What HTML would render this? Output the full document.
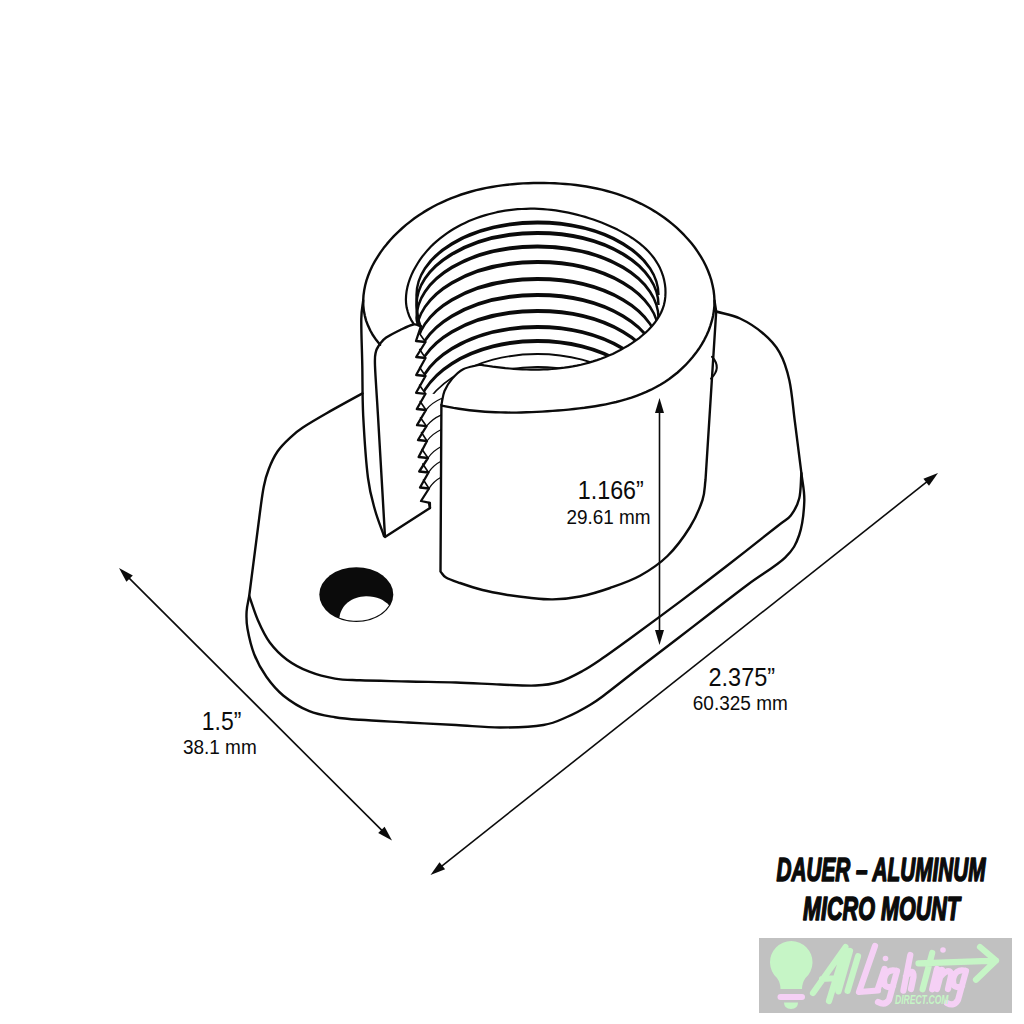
<!DOCTYPE html>
<html><head><meta charset="utf-8"><style>
html,body{margin:0;padding:0;background:#fff;}
svg{display:block;font-family:"Liberation Sans", sans-serif;}
</style></head><body>
<svg width="1024" height="1024" viewBox="0 0 1024 1024" fill="#0b0b0b">
<defs><clipPath id="cc"><path d="M413.5,323.6 L411.1,319.8 L409.2,315.9 L407.8,311.8 L406.7,307.8 L406.1,303.7 L405.9,299.5 L406.1,295.4 L406.6,291.2 L407.4,287.1 L408.5,283.0 L409.9,278.9 L411.5,274.9 L413.3,271.0 L415.4,267.2 L417.6,263.5 L419.9,259.9 L422.4,256.4 L425.1,253.1 L427.8,249.9 L430.7,246.8 L433.7,243.9 L436.8,241.1 L440.1,238.4 L443.4,235.8 L446.8,233.3 L450.3,231.0 L453.9,228.8 L457.5,226.7 L461.2,224.7 L465.0,222.9 L468.9,221.1 L472.8,219.5 L476.7,218.0 L480.7,216.6 L484.7,215.4 L488.7,214.2 L492.8,213.2 L496.8,212.2 L501.0,211.4 L505.1,210.7 L509.2,210.1 L513.4,209.6 L517.6,209.2 L521.8,209.0 L526.0,208.8 L530.2,208.7 L534.5,208.7 L538.7,208.9 L543.0,209.1 L547.2,209.5 L551.4,209.9 L555.7,210.4 L559.9,211.1 L564.1,211.8 L568.3,212.6 L572.6,213.6 L576.7,214.6 L580.9,215.7 L585.1,216.9 L589.2,218.2 L593.3,219.5 L597.4,221.0 L601.5,222.6 L605.6,224.2 L609.6,225.9 L613.6,227.7 L617.5,229.6 L621.3,231.6 L625.1,233.7 L628.8,235.9 L632.4,238.2 L635.9,240.6 L639.3,243.2 L642.5,245.8 L645.6,248.6 L648.5,251.5 L651.2,254.6 L653.7,257.7 L656.0,261.1 L658.1,264.5 L660.0,268.1 L661.6,271.9 L663.0,275.8 L664.1,279.9 L664.9,284.1 L665.4,288.4 L665.5,292.6 L665.3,296.9 L664.8,301.1 L663.9,305.1 L662.6,309.0 L661.0,312.8 L659.0,316.4 L656.8,319.9 L654.3,323.3 L651.6,326.6 L648.6,329.7 L645.5,332.7 L642.2,335.5 L638.8,338.3 L635.2,340.9 L631.6,343.4 L627.9,345.7 L624.1,347.9 L620.4,350.0 L616.5,352.0 L612.7,353.9 L608.8,355.6 L604.9,357.2 L601.0,358.7 L597.0,360.1 L593.0,361.4 L589.0,362.6 L584.9,363.7 L580.9,364.7 L576.8,365.6 L572.7,366.4 L568.5,367.1 L564.4,367.7 L560.2,368.2 L556.1,368.6 L551.9,369.0 L547.7,369.3 L543.5,369.4 L539.2,369.6 L535.0,369.6 L530.8,369.6 L526.5,369.5 L522.3,369.3 L518.0,369.1 L513.8,368.8 L509.6,368.5 L505.3,368.1 L501.1,367.6 L496.8,367.1 L492.6,366.6 L488.4,366.0 L484.2,365.4 L480.0,364.7C474.4,366.2 467.9,366.9 463.2,369.2 C458.6,371.5 455.4,375.0 452.3,378.6 C449.2,382.2 446.3,386.6 444.5,391.0 C442.7,395.4 442.4,400.3 441.4,405.0 L441.4,394 L425.5,393.8 L419.6,385.2 L425.5,376.0 L419.7,367.5 L425.5,358.0 L419.7,349.5 L425.5,342.0 L419.5,333.5 L420.9,326.4 Z"/></clipPath></defs>
<path d="M249.2,596.0 C248.3,601.2 246.9,606.0 246.6,611.5 C246.3,617.0 246.2,621.5 247.5,628.7 C248.8,635.9 251.2,646.5 254.3,654.5 C257.4,662.5 261.5,669.9 266.4,676.8 C271.3,683.7 276.4,690.0 283.5,695.7 C290.6,701.4 300.7,707.6 309.3,711.2 C317.9,714.8 326.6,715.8 335.0,717.2 C343.4,718.6 347.8,718.9 360.0,719.8 C372.2,720.7 392.0,721.6 408.0,722.5 C424.0,723.4 440.7,724.2 456.0,725.0 C471.3,725.8 485.4,727.5 500.0,727.5 C514.6,727.5 532.2,726.8 543.4,725.0 C554.5,723.2 559.1,720.4 566.9,717.0 C574.7,713.6 583.8,708.6 590.3,704.7 C596.8,700.8 597.5,700.1 606.0,693.8 C614.5,687.4 629.2,675.6 641.0,666.5 C652.8,657.4 665.2,648.1 677.0,639.0 C688.8,629.9 700.1,621.2 712.0,612.0 C723.9,602.8 736.4,593.1 748.6,584.0 C760.8,574.9 776.7,565.8 785.1,557.6 C793.5,549.4 796.0,544.4 799.2,535.0 C802.4,525.6 803.9,511.6 804.3,501.3 C804.7,491.0 802.4,482.6 801.4,473.2 " fill="none" stroke="#0b0b0b" stroke-width="2.4" stroke-linejoin="round" stroke-linecap="round" />
<path d="M362.5,393.4 C350.8,399.8 337.5,407.0 327.5,412.8 C317.5,418.5 308.8,423.6 302.5,427.8 C296.2,431.9 294.2,433.8 290.0,437.8 C285.8,441.7 281.0,446.3 277.5,451.5 C274.0,456.7 271.0,463.2 268.8,469.0 C266.5,474.8 265.2,479.3 263.8,486.5 C262.3,493.7 261.2,503.5 260.0,512.0 L249.2,596 C252.1,604.0 254.4,612.2 257.8,620.0 C261.2,627.8 264.9,635.9 269.8,642.5 C274.7,649.1 280.4,654.8 287.0,659.7 C293.6,664.6 301.3,668.6 309.3,671.7 C317.3,674.9 326.6,677.2 335.0,678.6 C343.4,680.0 347.8,679.8 360.0,680.3 C372.2,680.8 392.0,681.1 408.0,681.5 C424.0,681.9 440.7,682.0 456.0,682.5 C471.3,683.0 486.7,684.0 500.0,684.5 C513.3,685.0 525.8,685.9 535.6,685.5 C545.4,685.1 551.2,684.4 559.0,682.0 C566.8,679.6 575.7,674.7 582.5,671.0 C589.3,667.3 592.2,665.3 600.0,660.0 C607.8,654.7 616.1,648.7 629.4,639.0 C642.7,629.3 663.6,613.9 680.0,601.6 C696.4,589.3 711.9,577.5 728.0,565.0 C744.1,552.5 766.2,535.0 776.7,526.7 C787.2,518.4 787.0,520.1 790.8,515.4 C794.5,510.7 797.4,505.5 799.2,498.5 C801.0,491.5 800.7,481.6 801.4,473.2 L795,422.6 C793.1,408.5 792.0,392.1 789.4,380.4 C786.8,368.7 784.0,360.2 779.5,352.3 C775.0,344.4 769.2,338.6 762.6,333.0 C756.0,327.4 747.7,322.1 740.0,318.5 C732.3,314.9 724.1,313.8 716.2,311.5 " fill="none" stroke="#0b0b0b" stroke-width="2.4" stroke-linejoin="round" stroke-linecap="round" />
<ellipse cx="356.3" cy="594.6" rx="37" ry="27.4" fill="#0b0b0b"/>
<path d="M339.4,617.7 C341,605 352,596.5 366,596.3 C377,596.2 384,600 389,605.3 A35.8,26.2 0 0 1 339.4,617.7 Z" fill="#fff"/>
<path d="M380.1,344.7 L376.3,340.1 L373.0,335.3 L370.3,330.5 L368.0,325.6 L366.1,320.6 L364.8,315.6 L363.8,310.5 L363.3,305.5 L363.2,300.4 L363.5,295.4 L364.2,290.3 L365.2,285.3 L366.5,280.4 L368.2,275.5 L370.1,270.7 L372.3,266.0 L374.8,261.4 L377.6,256.8 L380.5,252.4 L383.6,248.1 L387.0,243.9 L390.5,239.8 L394.1,235.9 L398.0,232.1 L401.9,228.5 L406.0,224.9 L410.2,221.6 L414.5,218.3 L418.9,215.3 L423.3,212.4 L427.9,209.6 L432.5,207.0 L437.2,204.5 L441.9,202.3 L446.7,200.1 L451.5,198.1 L456.4,196.3 L461.3,194.5 L466.3,193.0 L471.3,191.5 L476.3,190.2 L481.4,189.0 L486.5,187.9 L491.7,187.0 L496.8,186.1 L502.0,185.4 L507.2,184.7 L512.5,184.2 L517.7,183.8 L523.0,183.4 L528.3,183.2 L533.6,183.0 L538.9,183.0 L544.2,183.0 L549.5,183.1 L554.8,183.3 L560.1,183.6 L565.3,184.0 L570.6,184.4 L575.9,185.0 L581.1,185.7 L586.3,186.5 L591.5,187.5 L596.6,188.5 L601.8,189.7 L606.9,191.0 L611.9,192.4 L616.9,193.9 L621.9,195.6 L626.8,197.5 L631.7,199.4 L636.5,201.6 L641.2,203.8 L645.9,206.3 L650.5,208.8 L655.1,211.6 L659.6,214.5 L664.0,217.5 L668.3,220.8 L672.5,224.1 L676.6,227.7 L680.5,231.4 L684.3,235.2 L688.0,239.2 L691.5,243.3 L694.8,247.5 L697.8,251.9 L700.7,256.4 L703.4,261.0 L705.8,265.7 L707.9,270.5 L709.8,275.5 L711.4,280.4 L712.6,285.5 L713.6,290.5 L714.2,295.6 L714.5,300.7 L714.4,305.8 L713.9,310.8 L713.1,315.8 L711.9,320.7 L710.4,325.6 L708.7,330.5 L706.6,335.2 L704.3,339.8 L701.7,344.4 L698.9,348.8 L695.8,353.1 L692.5,357.3 L689.0,361.3 L685.4,365.2 L681.5,368.9 L677.6,372.5 L673.4,375.8 L669.2,379.0 L664.8,381.9 L660.3,384.7 L655.7,387.3 L651.1,389.7 L646.3,391.9 L641.5,393.9 L636.5,395.8 L631.5,397.6 L626.5,399.2 L621.4,400.6 L616.2,402.0 L611.0,403.2 L605.8,404.3 L600.5,405.3 L595.2,406.2 L589.9,407.0 L584.5,407.8 L579.2,408.4 L573.9,409.0 L568.5,409.6 L563.2,410.1 L557.9,410.5 L552.6,410.9 L547.4,411.3 L542.1,411.6 L536.9,411.9 L531.7,412.1 L526.5,412.3 L521.3,412.5 L516.2,412.6 L511.0,412.6 L505.8,412.5 L500.7,412.4 L495.5,412.2 L490.3,412.0 L485.1,411.7 L479.9,411.3 L474.7,410.8 L469.4,410.2 L464.2,409.5 L458.9,408.7 L453.6,407.9 L448.2,406.9 L442.9,405.9" fill="none" stroke="#0b0b0b" stroke-width="2.4" stroke-linejoin="round" stroke-linecap="round" />
<path d="M714.5,300.7 L716.2,311.5 L705.5,480 C704.5,486.7 705.1,492.2 702.5,500.0 C699.9,507.8 695.8,517.7 690.0,527.0 C684.2,536.3 675.8,547.9 667.5,556.0 C659.2,564.1 649.6,570.4 640.0,575.8 C630.4,581.1 620.0,584.5 610.0,588.0 C600.0,591.5 589.5,594.6 580.0,596.5 C570.5,598.4 561.2,599.2 552.8,599.4 C544.4,599.6 537.4,598.6 529.4,597.8 C521.4,597.0 512.8,595.8 505.0,594.5 C497.2,593.2 490.0,591.9 482.5,590.0 C475.0,588.1 466.1,585.1 460.0,583.0 C453.9,580.9 449.2,579.4 446.0,577.5 C442.8,575.6 442.3,573.5 440.5,571.5 L441.4,405" fill="none" stroke="#0b0b0b" stroke-width="2.4" stroke-linejoin="round" stroke-linecap="round" />
<path d="M363.2,300.4 C362.6,306.6 361.5,308.1 361.3,319.0 C361.1,329.9 362.0,349.6 362.3,365.8 C362.6,381.9 362.3,397.3 363.2,416.0 C364.2,434.7 366.0,462.3 368.0,478.0 C370.0,493.7 372.3,500.3 375.0,510.0 C377.7,519.7 381.0,527.3 384.0,536.0 " fill="none" stroke="#0b0b0b" stroke-width="2.4" stroke-linejoin="round" stroke-linecap="round" />
<path d="M379.6,344.2 C378.4,346.7 376.7,348.1 375.9,351.7 C375.1,355.3 374.6,355.0 375.0,365.8 C375.4,376.5 376.3,387.5 378.0,416.0 C379.7,444.5 382.7,496.7 385.0,537.0 L430,508 L429,503" fill="none" stroke="#0b0b0b" stroke-width="2.4" stroke-linejoin="round" stroke-linecap="round" />
<path d="M379.6,344.2 C381.8,342.0 382.8,340.0 386.2,337.6 C389.6,335.2 395.7,332.2 400.2,330.0 C404.8,327.8 410.0,325.1 413.4,324.5 C416.8,323.9 418.4,325.8 420.9,326.4 " fill="none" stroke="#0b0b0b" stroke-width="2.4" stroke-linejoin="round" stroke-linecap="round" />
<path d="M413.5,323.6 L411.1,319.8 L409.2,315.9 L407.8,311.8 L406.7,307.8 L406.1,303.7 L405.9,299.5 L406.1,295.4 L406.6,291.2 L407.4,287.1 L408.5,283.0 L409.9,278.9 L411.5,274.9 L413.3,271.0 L415.4,267.2 L417.6,263.5 L419.9,259.9 L422.4,256.4 L425.1,253.1 L427.8,249.9 L430.7,246.8 L433.7,243.9 L436.8,241.1 L440.1,238.4 L443.4,235.8 L446.8,233.3 L450.3,231.0 L453.9,228.8 L457.5,226.7 L461.2,224.7 L465.0,222.9 L468.9,221.1 L472.8,219.5 L476.7,218.0 L480.7,216.6 L484.7,215.4 L488.7,214.2 L492.8,213.2 L496.8,212.2 L501.0,211.4 L505.1,210.7 L509.2,210.1 L513.4,209.6 L517.6,209.2 L521.8,209.0 L526.0,208.8 L530.2,208.7 L534.5,208.7 L538.7,208.9 L543.0,209.1 L547.2,209.5 L551.4,209.9 L555.7,210.4 L559.9,211.1 L564.1,211.8 L568.3,212.6 L572.6,213.6 L576.7,214.6 L580.9,215.7 L585.1,216.9 L589.2,218.2 L593.3,219.5 L597.4,221.0 L601.5,222.6 L605.6,224.2 L609.6,225.9 L613.6,227.7 L617.5,229.6 L621.3,231.6 L625.1,233.7 L628.8,235.9 L632.4,238.2 L635.9,240.6 L639.3,243.2 L642.5,245.8 L645.6,248.6 L648.5,251.5 L651.2,254.6 L653.7,257.7 L656.0,261.1 L658.1,264.5 L660.0,268.1 L661.6,271.9 L663.0,275.8 L664.1,279.9 L664.9,284.1 L665.4,288.4 L665.5,292.6 L665.3,296.9 L664.8,301.1 L663.9,305.1 L662.6,309.0 L661.0,312.8 L659.0,316.4 L656.8,319.9 L654.3,323.3 L651.6,326.6 L648.6,329.7 L645.5,332.7 L642.2,335.5 L638.8,338.3 L635.2,340.9 L631.6,343.4 L627.9,345.7 L624.1,347.9 L620.4,350.0 L616.5,352.0 L612.7,353.9 L608.8,355.6 L604.9,357.2 L601.0,358.7 L597.0,360.1 L593.0,361.4 L589.0,362.6 L584.9,363.7 L580.9,364.7 L576.8,365.6 L572.7,366.4 L568.5,367.1 L564.4,367.7 L560.2,368.2 L556.1,368.6 L551.9,369.0 L547.7,369.3 L543.5,369.4 L539.2,369.6 L535.0,369.6 L530.8,369.6 L526.5,369.5 L522.3,369.3 L518.0,369.1 L513.8,368.8 L509.6,368.5 L505.3,368.1 L501.1,367.6 L496.8,367.1 L492.6,366.6 L488.4,366.0 L484.2,365.4 L480.0,364.7C474.4,366.2 467.9,366.9 463.2,369.2 C458.6,371.5 455.4,375.0 452.3,378.6 C449.2,382.2 446.3,386.6 444.5,391.0 C442.7,395.4 442.4,400.3 441.4,405.0 " fill="none" stroke="#0b0b0b" stroke-width="2.2" stroke-linejoin="round" stroke-linecap="round" />
<g clip-path="url(#cc)" fill="#0b0b0b" stroke="#0b0b0b" stroke-width="2.4"><path stroke-width="2.4" d="M416.5,295 A121,73.2 0 0 1 658.5,295 A121,71.60000000000001 0 0 0 416.5,295 Z"/><path fill="none" d="M416.5,295 Q416.5,318.2 421,327"/><path stroke-width="2.4" d="M416.5,305 A121,72.8 0 0 1 658.5,305 A121,71.2 0 0 0 416.5,305 Z"/><path fill="none" d="M416.5,305 Q416.5,320.8 421,327"/><path stroke-width="2.4" d="M416.5,318 A121,72.3 0 0 1 658.5,318 A121,70.7 0 0 0 416.5,318 Z"/><path fill="none" d="M416.5,318 Q416.5,324.0 421,327"/><path stroke-width="2.4" d="M416.5,333 A121,71.8 0 0 1 658.5,333 A121,70.2 0 0 0 416.5,333 Z"/><path stroke-width="2.4" d="M416.5,350 A121,71.8 0 0 1 658.5,350 A121,70.2 0 0 0 416.5,350 Z"/><path stroke-width="2.4" d="M416.5,367 A121,72.8 0 0 1 658.5,367 A121,71.2 0 0 0 416.5,367 Z"/><path stroke-width="2.4" d="M416.5,382 A121,71.8 0 0 1 658.5,382 A121,70.2 0 0 0 416.5,382 Z"/><path stroke-width="2.4" d="M416.5,401 A121,74.8 0 0 1 658.5,401 A121,73.2 0 0 0 416.5,401 Z"/><path stroke-width="2.4" d="M416.5,418 A121,77.8 0 0 1 658.5,418 A121,76.2 0 0 0 416.5,418 Z"/><path stroke-width="1.5" d="M416.5,435 A121,81.2 0 0 1 658.5,435 A121,80.8 0 0 0 416.5,435 Z"/><path stroke-width="1.5" d="M416.5,451 A121,84.2 0 0 1 658.5,451 A121,83.8 0 0 0 416.5,451 Z"/><path stroke-width="1.5" d="M416.5,466 A121,86.2 0 0 1 658.5,466 A121,85.8 0 0 0 416.5,466 Z"/></g>
<path d="M420.9,326.4 L416.0,341.0 L425.5,342.0 L416.2,357.0 L425.5,358.0 L416.2,375.0 L425.5,376.0 L416.1,392.8 L425.5,393.8 L416.8,409.0 L426.0,410.0 L417.0,425.2 L426.5,426.2 L418.0,440.0 L427.0,441.0 L418.6,457.0 L428.0,458.0 L419.2,471.5 L428.5,472.5 L420.0,487.5 L429.0,488.5 L421,501 L429.9,502.9 L430,508" fill="none" stroke="#0b0b0b" stroke-width="2.3" stroke-linejoin="round" stroke-linecap="round" />
<path d="M425.5,342.0 L419.5,333.5 M425.5,358.0 L419.7,349.5 M425.5,376.0 L419.7,367.5 M425.5,393.8 L419.6,385.2 M426.0,410.0 L420.2,401.5 M426.5,426.2 L420.5,417.8 M427.0,441.0 L421.5,432.5 M428.0,458.0 L422.1,449.5 M428.5,472.5 L422.8,464.0 M429.0,488.5 L423.5,480.0 " fill="none" stroke="#0b0b0b" stroke-width="1.6" stroke-linejoin="round" stroke-linecap="round" />
<path d="M426.0,410.0 Q431.4,402.9 441.4,398.5 M426.5,426.2 Q431.7,419.1 441.4,414.8 M427.0,441.0 Q432.0,433.9 441.4,429.5 M428.0,458.0 Q432.7,450.9 441.4,446.5 M428.5,472.5 Q433.0,465.4 441.4,461.0 M429.0,488.5 Q433.3,481.4 441.4,477.0 " fill="none" stroke="#0b0b0b" stroke-width="1.3" stroke-linejoin="round" stroke-linecap="round" />
<path d="M712,356.75 Q722,367.7 711,378.6" fill="none" stroke="#0b0b0b" stroke-width="2" stroke-linejoin="round" stroke-linecap="round" />
<line x1="126.1" y1="575.1" x2="384.9" y2="833.4" stroke="#0b0b0b" stroke-width="1.6"/>
<polygon points="119.0,568.0 132.8,575.4 126.4,581.8" fill="#0b0b0b"/>
<polygon points="392.0,840.5 378.2,833.1 384.6,826.7" fill="#0b0b0b"/>
<line x1="438.3" y1="868.8" x2="930.2" y2="479.2" stroke="#0b0b0b" stroke-width="1.6"/>
<polygon points="430.5,875.0 439.5,862.2 445.1,869.2" fill="#0b0b0b"/>
<polygon points="938.0,473.0 929.0,485.8 923.4,478.8" fill="#0b0b0b"/>
<line x1="659.5" y1="408.0" x2="659.5" y2="635.0" stroke="#0b0b0b" stroke-width="1.6"/>
<polygon points="659.5,398.0 664.0,413.0 655.0,413.0" fill="#0b0b0b"/>
<polygon points="659.5,645.0 655.0,630.0 664.0,630.0" fill="#0b0b0b"/>
<text x="577.8" y="498.9" font-size="26" textLength="66.0" lengthAdjust="spacingAndGlyphs">1.166&#8221;</text>
<text x="566.5" y="523.8" font-size="20.5" textLength="84.1" lengthAdjust="spacingAndGlyphs">29.61 mm</text>
<text x="201.8" y="729.8" font-size="26" textLength="39.5" lengthAdjust="spacingAndGlyphs">1.5&#8221;</text>
<text x="182.9" y="753.8" font-size="20.5" textLength="73.8" lengthAdjust="spacingAndGlyphs">38.1 mm</text>
<text x="708.5" y="685.9" font-size="26" textLength="66.6" lengthAdjust="spacingAndGlyphs">2.375&#8221;</text>
<text x="692.8" y="709.8" font-size="20.5" textLength="95.0" lengthAdjust="spacingAndGlyphs">60.325 mm</text>
<text x="776.5" y="880.5" font-size="33" font-weight="bold" font-style="italic" stroke="#0b0b0b" stroke-width="1.6" stroke-linejoin="round" textLength="209" lengthAdjust="spacingAndGlyphs">DAUER &#8211; ALUMINUM</text>
<text x="803" y="920" font-size="33" font-weight="bold" font-style="italic" stroke="#0b0b0b" stroke-width="1.6" stroke-linejoin="round" textLength="157" lengthAdjust="spacingAndGlyphs">MICRO MOUNT</text>
<rect x="759" y="938" width="253" height="75" fill="#c1c1c1"/>
<path d="M777,978 A21.25,21.25 0 1 1 805.5,978 Q802,983 802,989 L780.5,989 Q780.5,983 777,978 Z" fill="#c6f5c6"/>
<rect x="777.5" y="994" width="27.5" height="6" rx="3" fill="#f5d0f5"/>
<path d="M784,1002.5 L798,1002.5 Q798,1009 791,1009 Q784,1009 784,1002.5 Z" fill="#c6f5c6"/>
<g fill="none" stroke-linecap="round" stroke-linejoin="round" stroke-width="6.2">
<path stroke="#c6f5c6" d="M813,993 L845.6,947 L829,1001 M822,979 L839,978 M850,951 L838.5,991.4 M858,956.3 L847.6,990.8 M932.2,953 L922.6,989.3 M918.5,963.3 L996,960.6 M980,947 L996,960.6 L976,979.8"/>
<path stroke="#f5d0f5" d="M875,946 L859,992 L878,990.5 M884.5,969 L877.5,990 M897,971 Q886,968 884,980 Q884,990 893,986 M897,971 L889,1000 Q885,1006 878,1002 M910.3,955 L903.4,990.7 M906,976 Q914,967 913.5,977 L911,989 M937,969 L932.2,989.3 M942,970 L937,989 M941,976 Q951,966 951,976 L948,989 M966,971 Q955,968 953,980 Q953,990 962,986 M966,971 L958,1000 Q954,1007 947,1003"/>
</g>
<circle cx="885.5" cy="958.5" r="2.8" fill="#f5d0f5"/><circle cx="943" cy="950" r="2.8" fill="#f5d0f5"/>
<text x="895" y="1004.4" font-size="12.5" font-weight="bold" font-style="italic" fill="#c6f5c6" textLength="53.5" lengthAdjust="spacingAndGlyphs">DIRECT.COM</text>

</svg></body></html>
